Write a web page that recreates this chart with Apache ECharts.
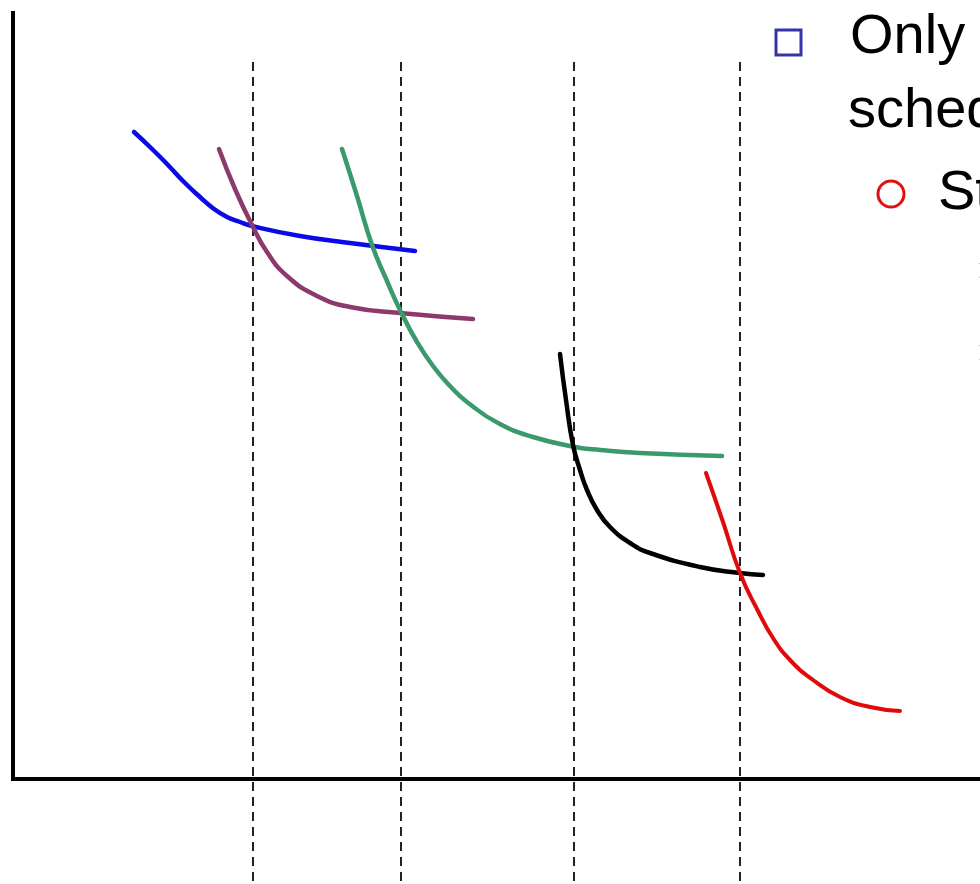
<!DOCTYPE html>
<html>
<head>
<meta charset="utf-8">
<script src="https://cdn.jsdelivr.net/npm/echarts@6/dist/echarts.min.js"></script>
<style>
  html, body { margin: 0; padding: 0; background: #ffffff; }
  #chart { width: 980px; height: 884px; }
</style>
</head>
<body>
<div id="chart"></div>
<script>
// ---- data (x, y in chart units) ----
const dashedX = [240, 388, 561, 727];
const dashedTop = 717;
const dashedBottom = -105;

const blueCurve = [[121,647],[137,632],[154,615],[171,597],[187,582],[201,570],[214,562],[227,557],[239,553],[287,543],[337,536],[402,528]];
const purpleCurve = [[206,630],[222,590],[239,554],[254,527],[274,503],[304,483],[337,472],[387,466],[460,460]];
const greenCurve = [[329,630],[344,583],[359,534],[374,498],[388,467],[404,437],[420,413],[437,393],[454,377],[487,355],[520,342],[562,332],[587,329],[627,326],[709,323]];
const blackCurve = [[547,425],[553,379],[560,334],[567,309],[574,289],[584,269],[597,252],[617,236],[637,226],[687,212],[727,206],[750,204]];
const redCurve = [[693,306],[710,257],[727,206],[744,170],[760,141],[777,119],[800,99],[827,82],[857,72],[887,68]];

const textLines = ['Only', 'sched', 'St'];
const subBullet = '\u27A2';

const chart = echarts.init(document.getElementById('chart'), null, { renderer: 'canvas' });

const curveSeries = (data, color, width) => ({
  type: 'line',
  data: data,
  smooth: 0.5,
  showSymbol: false,
  clip: false,
  silent: true,
  lineStyle: { color: color, width: width, cap: 'round' }
});

const dashedSeries = dashedX.map(x => ({
  type: 'line',
  data: [[x, dashedTop], [x, dashedBottom]],
  showSymbol: false,
  clip: false,
  silent: true,
  lineStyle: { color: '#222222', width: 2, type: [9, 6] }
}));

const textFont = '56px "Liberation Sans", sans-serif';

chart.setOption({
  animation: false,
  backgroundColor: '#ffffff',
  grid: { left: 13, right: 0, top: 13, bottom: 105 },
  xAxis: {
    type: 'value', min: 0, max: 967,
    axisLine: { show: true, onZero: false, lineStyle: { color: '#000', width: 4, cap: 'square' } },
    axisTick: { show: false }, axisLabel: { show: false }, splitLine: { show: false }
  },
  yAxis: {
    type: 'value', min: 0, max: 766,
    axisLine: { show: true, onZero: false, lineStyle: { color: '#000', width: 4, cap: 'square' } },
    axisTick: { show: false }, axisLabel: { show: false }, splitLine: { show: false }
  },
  series: [
    ...dashedSeries,
    curveSeries(blueCurve, '#0a0ae6', 4.5),
    curveSeries(purpleCurve, '#8c3a6c', 4.5),
    curveSeries(greenCurve, '#3a9a6c', 4.5),
    curveSeries(blackCurve, '#000000', 4.5),
    curveSeries(redCurve, '#e00a0a', 4)
  ],
  graphic: [
    { type: 'rect', shape: { x: 776, y: 30, width: 25, height: 25 },
      style: { fill: '#ffffff', stroke: '#3434a8', lineWidth: 3 } },
    { type: 'text', x: 850, y: 10, style: { text: textLines[0], font: textFont, fill: '#000' } },
    { type: 'text', x: 848, y: 84, style: { text: textLines[1], font: textFont, fill: '#000' } },
    { type: 'circle', shape: { cx: 891, cy: 194, r: 13 },
      style: { fill: '#ffffff', stroke: '#e01010', lineWidth: 3 } },
    { type: 'text', x: 938, y: 166, style: { text: textLines[2], font: textFont, fill: '#000' } },
    { type: 'text', x: 975, y: 255,
      style: { text: subBullet, font: '34px "DejaVu Sans", sans-serif', fill: '#7a7ab8' } },
    { type: 'text', x: 975, y: 337,
      style: { text: subBullet, font: '34px "DejaVu Sans", sans-serif', fill: '#7a7ab8' } }
  ]
});
</script>
</body>
</html>
